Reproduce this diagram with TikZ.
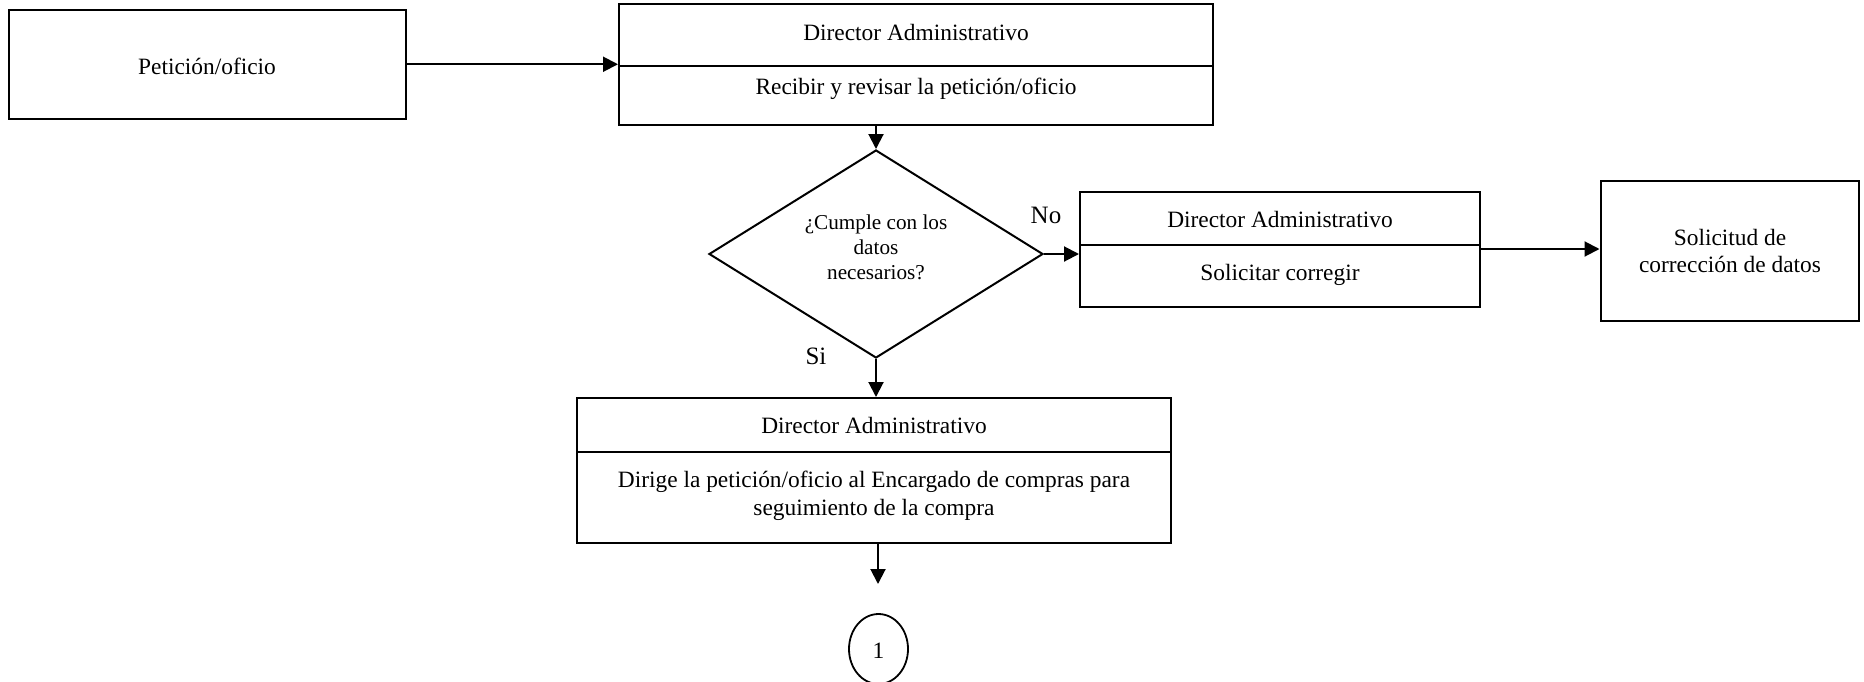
\documentclass[tikz,border=0pt]{standalone}
\usepackage{fontspec}
\setmainfont{Liberation Serif}
\usetikzlibrary{arrows.meta,shapes.geometric,fit}

\tikzset{
  frame/.style={draw=black, line width=1pt, inner sep=0pt, fill=white},
  txt/.style={inner sep=0pt, align=center, font=\fontsize{11.7}{14}\selectfont},
  small/.style={inner sep=0pt, align=center, font=\fontsize{10.6}{12.5}\selectfont},
  lbl/.style={inner sep=0pt, font=\fontsize{12.5}{14}\selectfont},
  arr/.style={line width=1pt, -{Triangle[length=7.5pt,width=7.5pt]}},
  divider/.style={line width=1pt}
}

\begin{document}
\begin{tikzpicture}[x=0.5pt, y=-0.5pt]
  \useasboundingbox (0,0) rectangle (1864,681);

  % Input document
  \node[frame, fit={(9,10) (405.5,118.5)}] (pet) {};
  \node[txt] (petT) at (207,66) {Petición/oficio};

  % Step 1: receive and review
  \node[frame, fit={(619,4) (1213,125)}] (b1) {};
  \draw[divider] (b1.west |- 0,65.7) -- (b1.east |- 0,65.7);
  \node[txt] (b1a) at (916,32) {Director Administrativo};
  \node[txt] (b1b) at (916,88.5) {Recibir y revisar la petición/oficio};

  % Decision
  \node[frame, diamond, minimum width=167pt, minimum height=104pt] (dia) at (876,254) {};
  \node[small] (diaT) at (876,247) {¿Cumple con los\\datos\\necesarios?};
  \node[lbl] (no) at (1046,215) {No};
  \node[lbl] (si) at (816,356) {Si};

  % Step 2: request correction
  \node[frame, fit={(1080,191.5) (1479.5,306.5)}] (b2) {};
  \draw[divider] (b2.west |- 0,244.5) -- (b2.east |- 0,244.5);
  \node[txt] (b2a) at (1280,219) {Director Administrativo};
  \node[txt] (b2b) at (1280,274.5) {Solicitar corregir};

  % Output document
  \node[frame, fit={(1600.5,180.5) (1859,321)}] (b3) {};
  \node[txt, font=\fontsize{11.7}{13.2}\selectfont] (b3T) at (1730,251) {Solicitud de\\corrección de datos};

  % Step 3: forward to purchasing
  \node[frame, fit={(577,398) (1171,542.5)}] (b4) {};
  \draw[divider] (b4.west |- 0,452) -- (b4.east |- 0,452);
  \node[txt] (b4a) at (874,425) {Director Administrativo};
  \node[txt, font=\fontsize{11.7}{14}\selectfont] (b4b) at (874,496) {Dirige la petición/oficio al Encargado de compras para\\seguimiento de la compra};

  % Off-page connector
  \node[draw=black, line width=0.9pt, ellipse, inner sep=0pt, minimum width=29.5pt, minimum height=35pt] (con) at (878.5,649) {};
  \node[txt] (conT) at (878.5,651) {1};
  \coordinate (conIn) at (878,584);

  % Connectors
  \draw[arr] (pet.east) -- (pet.east -| b1.west);
  \draw[arr] (dia.north |- b1.south) -- (dia.north);
  \draw[arr] (dia.east) -- (dia.east -| b2.west);
  \draw[arr] (b2.east) -- (b2.east -| b3.west);
  \draw[arr] (dia.south) -- (dia.south |- b4.north);
  \draw[arr] (b4.south -| conIn) -- (conIn);
\end{tikzpicture}
\end{document}
